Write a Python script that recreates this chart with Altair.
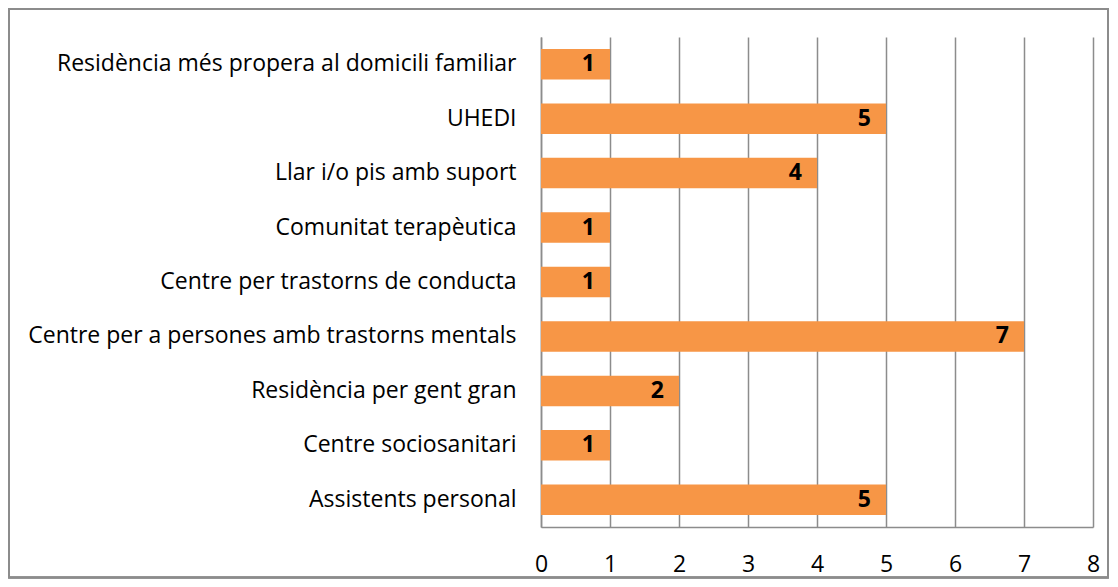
import altair as alt
import pandas as pd

categories = [
    "Residència més propera al domicili familiar",
    "UHEDI",
    "Llar i/o pis amb suport",
    "Comunitat terapèutica",
    "Centre per trastorns de conducta",
    "Centre per a persones amb trastorns mentals",
    "Residència per gent gran",
    "Centre sociosanitari",
    "Assistents personal",
]
values = [1, 5, 4, 1, 1, 7, 2, 1, 5]
x_ticks = [0, 1, 2, 3, 4, 5, 6, 7, 8]

df = pd.DataFrame({"cat": categories, "val": values})

FONT = "Open Sans"
FS = 23
W, H = 552, 490

y_enc = alt.Y("cat:N", sort=categories, title=None,
              scale=alt.Scale(paddingInner=0.44, paddingOuter=0.22),
              axis=alt.Axis(labelFontSize=FS, labelFont=FONT, labelColor="#000000",
                            labelPadding=25, ticks=False, domainColor="#8c8c8c",
                            domainWidth=1.5, labelLimit=700))
x_enc = alt.X("val:Q", title=None,
              scale=alt.Scale(domain=[0, 8], nice=False),
              axis=alt.Axis(values=x_ticks, format="d", labelFontSize=FS, labelFont=FONT,
                            labelColor="#000000", ticks=False, labelPadding=26,
                            labelFlush=False,
                            domainColor="#8c8c8c", domainWidth=1.5,
                            grid=True, gridColor="#8c8c8c", gridWidth=1.5))

bars = alt.Chart(df).mark_bar(color="#F79646").encode(x=x_enc, y=y_enc)
labels = alt.Chart(df).mark_text(align="right", dx=-15, fontWeight="bold",
                                 fontSize=FS, font=FONT, color="#000000").encode(
    x="val:Q", y=alt.Y("cat:N", sort=categories), text="val:Q")

border = alt.Chart(df).mark_rect(fill=None, stroke="#8c8c8c", strokeWidth=1.5,
                                 clip=False).encode(
    x=alt.value(-532), x2=alt.value(567), y=alt.value(-28), y2=alt.value(540.5))

chart = alt.layer(border, bars, labels).properties(
    width=W, height=H,
    autosize=alt.AutoSizeParams(type="none"),
    padding={"left": 533, "top": 29, "right": 17, "bottom": 52},
).configure_view(stroke=None)

chart.save("out.html", embed_options={"renderer": "svg", "actions": False})
